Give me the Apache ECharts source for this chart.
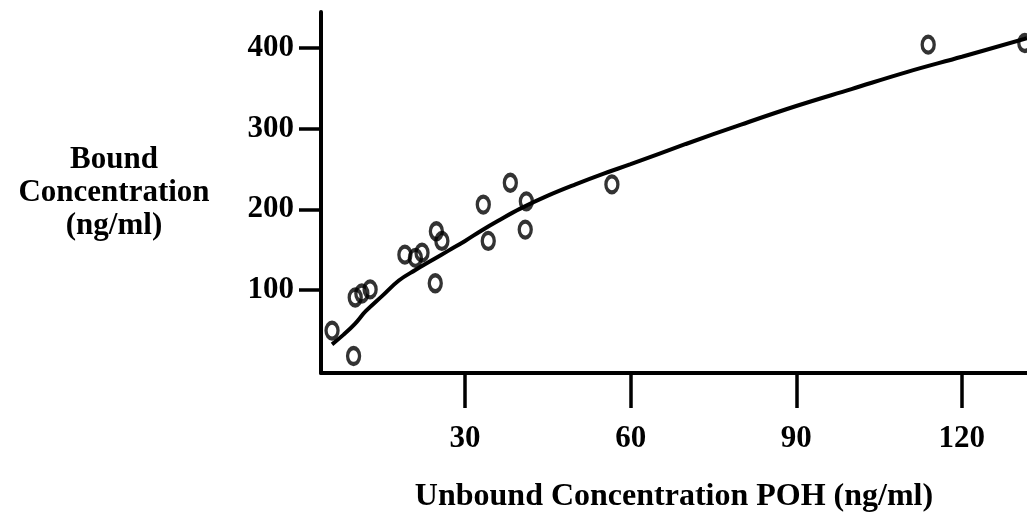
<!DOCTYPE html>
<html>
<head>
<meta charset="utf-8">
<script src="https://cdn.jsdelivr.net/npm/echarts@6/dist/echarts.min.js"></script>
<style>
  html, body { margin: 0; padding: 0; background: #fff; }
  #chart { width: 1027px; height: 518px; }
</style>
</head>
<body>
<div id="chart"></div>
<script>
// Measured bound vs unbound POH concentrations (ng/ml)
const unboundX = [5.9, 9.8, 10.1, 11.3, 12.8, 19.1, 21.0, 22.2, 24.8, 25.8, 24.6, 33.3, 34.2, 38.2, 41.1, 40.9, 56.6, 113.9, 131.4];
const boundY   = [50, 18.5, 91, 96, 101, 144, 140, 146.5, 173, 161, 108.6, 206, 161, 233, 210, 175, 231, 404, 406];

// Fitted binding curve
const fitX = [5.9, 8, 10, 12, 15, 18, 21, 24, 27, 30, 33, 36, 40, 45, 50, 55, 60, 70, 80, 90, 100, 110, 120, 131.8];
const fitY = [33, 45, 58, 74, 93, 112, 125, 137, 149, 161, 174, 186, 201, 217, 231, 244, 256, 281, 305, 328, 349, 370, 389, 412];

// Tick positions
const xTicks = [30, 60, 90, 120];
const yTicks = [100, 200, 300, 400];

const points = unboundX.map((x, i) => [x, boundY[i]]);
const curve = fitX.map((x, i) => [x, fitY[i]]);

const serif = 'Liberation Serif, Times New Roman, serif';

const chart = echarts.init(document.getElementById('chart'), null, { renderer: 'canvas' });
chart.setOption({
  backgroundColor: '#ffffff',
  animation: false,
  grid: { left: 321, right: 0, top: 12, bottom: 143, containLabel: false },
  xAxis: {
    type: 'value',
    min: 3.9,
    max: 131.8,
    name: 'Unbound Concentration POH (ng/ml)',
    nameLocation: 'middle',
    nameGap: 108,
    nameTextStyle: { fontFamily: serif, fontSize: 32, fontWeight: 'bold', color: '#000' },
    axisLine: { onZero: false, lineStyle: { color: '#000', width: 4 } },
    axisTick: { show: true, length: 35, customValues: xTicks, lineStyle: { color: '#000', width: 3.5 } },
    axisLabel: { customValues: xTicks, margin: 50, fontFamily: serif, fontSize: 31, fontWeight: 'bold', color: '#000' },
    splitLine: { show: false }
  },
  yAxis: {
    type: 'value',
    min: -2.5,
    max: 444.4,
    name: 'Bound\nConcentration\n(ng/ml)',
    nameLocation: 'middle',
    nameRotate: 0,
    nameGap: 207,
    nameTextStyle: {
      fontFamily: serif, fontSize: 31, fontWeight: 'bold', color: '#000',
      align: 'center', verticalAlign: 'middle', lineHeight: 33, padding: [0, 0, 40, 0]
    },
    axisLine: { onZero: false, lineStyle: { color: '#000', width: 4 } },
    axisTick: { show: true, length: 22, customValues: yTicks, lineStyle: { color: '#000', width: 3.5 } },
    axisLabel: { customValues: yTicks, margin: 27, fontFamily: serif, fontSize: 31, fontWeight: 'bold', color: '#000' },
    splitLine: { show: false }
  },
  series: [
    {
      type: 'line',
      data: curve,
      smooth: 0.4,
      showSymbol: false,
      symbol: 'none',
      lineStyle: { color: '#000', width: 4 },
      z: 2
    },
    {
      type: 'scatter',
      data: points,
      symbol: 'circle',
      symbolSize: [12, 16],
      clip: false,
      itemStyle: { color: 'rgba(255,255,255,0)', borderColor: '#000', borderWidth: 3.8 },
      z: 3
    }
  ]
});
</script>
</body>
</html>
